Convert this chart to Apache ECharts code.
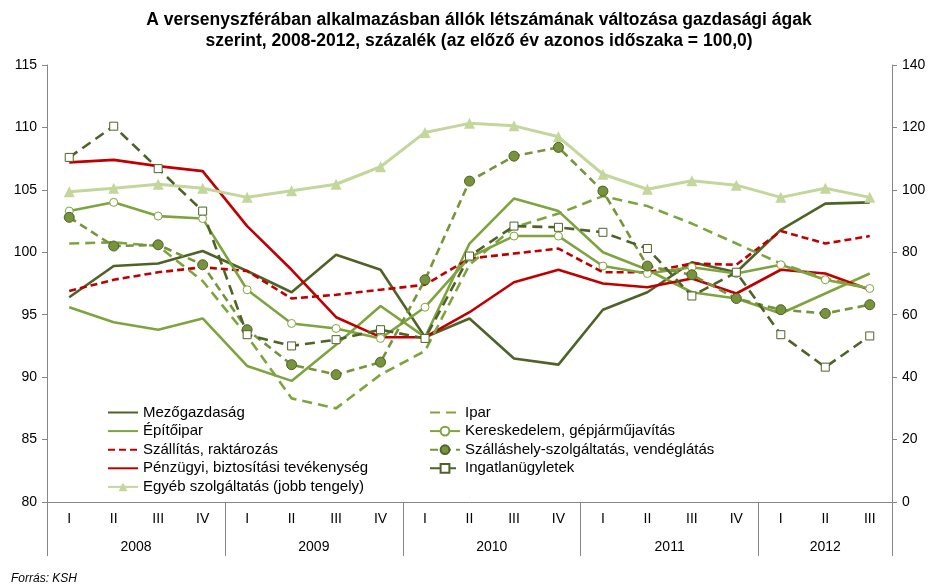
<!DOCTYPE html>
<html>
<head>
<meta charset="utf-8">
<script src="https://cdn.jsdelivr.net/npm/echarts@6/dist/echarts.min.js"></script>
<style>
  html, body { margin: 0; padding: 0; background: #fff; }
  #chart { width: 932px; height: 588px; }
</style>
</head>
<body>
<div id="chart"></div>
<script>
// negyedévek és évek
var quarters = ['I', 'II', 'III', 'IV', 'I', 'II', 'III', 'IV', 'I', 'II', 'III', 'IV',
  'I', 'II', 'III', 'IV', 'I', 'II', 'III'];
var years = ['2008', '2009', '2010', '2011', '2012'];
var quartersPerYear = [4, 4, 4, 4, 3];

var mezogazdasag = [96.4, 98.9, 99.1, 100.1, 98.5, 96.8, 99.8, 98.6, 93.2, 94.7, 91.5, 91.0, 95.4, 96.8, 99.2, 98.4, 101.8, 103.9, 104.0];
var epitoipar = [95.6, 94.4, 93.8, 94.7, 90.9, 89.7, 92.6, 95.7, 93.2, 100.7, 104.3, 103.3, 100.0, 98.6, 96.8, 96.3, 95.1, 96.7, 98.3];
var szallitas = [96.9, 97.8, 98.4, 98.8, 98.5, 96.3, 96.6, 97.0, 97.4, 99.5, 99.9, 100.3, 98.4, 98.4, 99.1, 99.0, 101.7, 100.7, 101.3];
var penzugyi = [107.2, 107.4, 106.9, 106.5, 102.1, 98.6, 94.8, 93.2, 93.2, 95.2, 97.6, 98.6, 97.5, 97.2, 97.9, 96.7, 98.6, 98.3, 97.0];
var egyeb = [99.4, 100.5, 101.8, 100.5, 97.6, 99.7, 101.8, 107.4, 118.4, 121.3, 120.5, 117.0, 105.0, 100.2, 102.9, 101.5, 97.6, 100.5, 97.6];
var ipar = [100.7, 100.8, 100.5, 97.7, 93.3, 88.3, 87.5, 90.2, 92.1, 99.0, 102.0, 103.1, 104.5, 103.7, 102.3, 100.7, 99.1, 97.9, 97.1];
var kereskedelem = [103.3, 104.0, 102.9, 102.7, 97.0, 94.3, 93.9, 93.1, 95.6, 99.6, 101.3, 101.3, 98.9, 98.3, 98.8, 98.3, 99.0, 97.8, 97.1];
var szallashely = [102.8, 100.5, 100.6, 99.0, 93.8, 91.0, 90.2, 91.2, 97.8, 105.7, 107.7, 108.4, 104.9, 98.9, 98.2, 96.3, 95.4, 95.1, 95.8];
var ingatlan = [107.6, 110.1, 106.7, 103.3, 93.4, 92.5, 93.0, 93.8, 93.1, 99.7, 102.1, 102.0, 101.6, 100.3, 96.5, 98.4, 93.4, 90.8, 93.3];

var leftTicks = { min: 80, max: 115, interval: 5 };
var rightTicks = { min: 0, max: 140, interval: 20 };

// évtengely: félnegyedéves felosztás, hogy az évszám a sáv közepére kerüljön
var halfSteps = [];
var yearLabelAt = {};
var yearTickAt = { 0: true };
var pos = 0;
for (var y = 0; y < years.length; y++) {
  yearLabelAt[pos + quartersPerYear[y]] = years[y];
  pos += quartersPerYear[y] * 2;
  yearTickAt[pos] = true;
}
for (var k = 0; k <= pos; k++) {
  halfSteps.push(yearLabelAt[k] || '');
}

var FONT = '"Liberation Sans", Arial, sans-serif';
var darkOlive = '#4F6228';
var green = '#7FA33F';
var midGreen = '#77933C';
var lightGreen = '#C3D69B';
var red = '#C00000';

function lineSeries(name, data, color, opts) {
  var s = {
    name: name,
    type: 'line',
    data: data,
    yAxisIndex: 0,
    symbol: 'none',
    symbolSize: 8,
    lineStyle: { color: color, width: 2.6 },
    itemStyle: { color: color },
    animation: false
  };
  for (var key in opts) s[key] = opts[key];
  return s;
}

// jelölő nélküli sorozatoknál a jelmagyarázatban csak a vonal látszik
var noMark = { opacity: 0 };
var legendText = { fontFamily: FONT, fontSize: 15, color: '#000' };

var chart = echarts.init(document.getElementById('chart'));
chart.setOption({
  backgroundColor: '#fff',
  textStyle: { fontFamily: FONT },
  title: [{
    text: 'A versenyszférában alkalmazásban állók létszámának változása gazdasági ágak\nszerint, 2008-2012, százalék (az előző év azonos időszaka = 100,0)',
    left: 474,
    top: 5,
    textAlign: 'center',
    textStyle: { fontFamily: FONT, fontSize: 17.5, fontWeight: 'bold', color: '#000', lineHeight: 20.5 }
  }, {
    text: 'Forrás: KSH',
    left: 6,
    top: 568,
    textStyle: { fontFamily: FONT, fontSize: 12, fontStyle: 'italic', fontWeight: 'normal', color: '#000' }
  }],
  grid: { left: 47, right: 40, top: 65, bottom: 86 },
  legend: [{
    orient: 'vertical',
    left: 102,
    top: 400,
    itemWidth: 30,
    itemHeight: 11,
    itemGap: 3.6,
    textStyle: legendText,
    data: [
      { name: 'Mezőgazdaság', itemStyle: noMark },
      { name: 'Építőipar', itemStyle: noMark },
      { name: 'Szállítás, raktározás', itemStyle: noMark },
      { name: 'Pénzügyi, biztosítási tevékenység', itemStyle: noMark },
      'Egyéb szolgáltatás (jobb tengely)'
    ]
  }, {
    orient: 'vertical',
    left: 424,
    top: 400,
    itemWidth: 30,
    itemHeight: 11,
    itemGap: 3.6,
    textStyle: legendText,
    data: [
      { name: 'Ipar', itemStyle: noMark },
      'Kereskedelem, gépjárműjavítás',
      'Szálláshely-szolgáltatás, vendéglátás',
      'Ingatlanügyletek'
    ]
  }],
  xAxis: [{
    type: 'category',
    data: quarters,
    boundaryGap: true,
    axisLine: { lineStyle: { color: '#868686' } },
    axisTick: { interval: 0, length: 25, lineStyle: { color: '#868686' } },
    axisLabel: { interval: 0, margin: 10, fontSize: 14, color: '#000', fontFamily: FONT }
  }, {
    type: 'category',
    data: halfSteps,
    boundaryGap: false,
    position: 'bottom',
    axisLine: { show: false },
    axisTick: {
      length: 54,
      interval: function (i) { return !!yearTickAt[i]; },
      lineStyle: { color: '#868686' }
    },
    axisLabel: {
      margin: 38,
      fontSize: 14,
      color: '#000',
      fontFamily: FONT,
      interval: function (i, v) { return v !== ''; }
    }
  }],
  yAxis: [{
    type: 'value',
    min: leftTicks.min, max: leftTicks.max, interval: leftTicks.interval,
    splitLine: { show: false },
    axisLine: { show: true, lineStyle: { color: '#868686' } },
    axisTick: { show: true, length: 5, lineStyle: { color: '#868686' } },
    axisLabel: { fontSize: 14, color: '#000', margin: 10, fontFamily: FONT }
  }, {
    type: 'value',
    min: rightTicks.min, max: rightTicks.max, interval: rightTicks.interval,
    splitLine: { show: false },
    axisLine: { show: true, lineStyle: { color: '#868686' } },
    axisTick: { show: true, length: 5, lineStyle: { color: '#868686' } },
    axisLabel: { fontSize: 14, color: '#000', margin: 10, fontFamily: FONT }
  }],
  series: [
    lineSeries('Mezőgazdaság', mezogazdasag, darkOlive, {}),
    lineSeries('Építőipar', epitoipar, green, {}),
    lineSeries('Szállítás, raktározás', szallitas, red, {
      lineStyle: { color: red, width: 2.6, type: [7, 4] }
    }),
    lineSeries('Pénzügyi, biztosítási tevékenység', penzugyi, red, {}),
    lineSeries('Egyéb szolgáltatás (jobb tengely)', egyeb, lightGreen, {
      yAxisIndex: 1,
      symbol: 'triangle',
      symbolSize: 11,
      lineStyle: { color: lightGreen, width: 3 }
    }),
    lineSeries('Ipar', ipar, green, {
      lineStyle: { color: green, width: 2.6, type: [10, 6] }
    }),
    lineSeries('Kereskedelem, gépjárműjavítás', kereskedelem, green, {
      symbol: 'circle',
      symbolSize: 8,
      itemStyle: { color: '#fff', borderColor: green, borderWidth: 1 }
    }),
    lineSeries('Szálláshely-szolgáltatás, vendéglátás', szallashely, midGreen, {
      symbol: 'circle',
      symbolSize: 10,
      lineStyle: { color: midGreen, width: 2.6, type: [8, 5] },
      itemStyle: { color: midGreen, borderColor: '#4F6228', borderWidth: 1 }
    }),
    lineSeries('Ingatlanügyletek', ingatlan, darkOlive, {
      symbol: 'rect',
      symbolSize: 8,
      lineStyle: { color: darkOlive, width: 2.6, type: [10, 6] },
      itemStyle: { color: '#fff', borderColor: darkOlive, borderWidth: 1 }
    })
  ]
});
</script>
</body>
</html>
